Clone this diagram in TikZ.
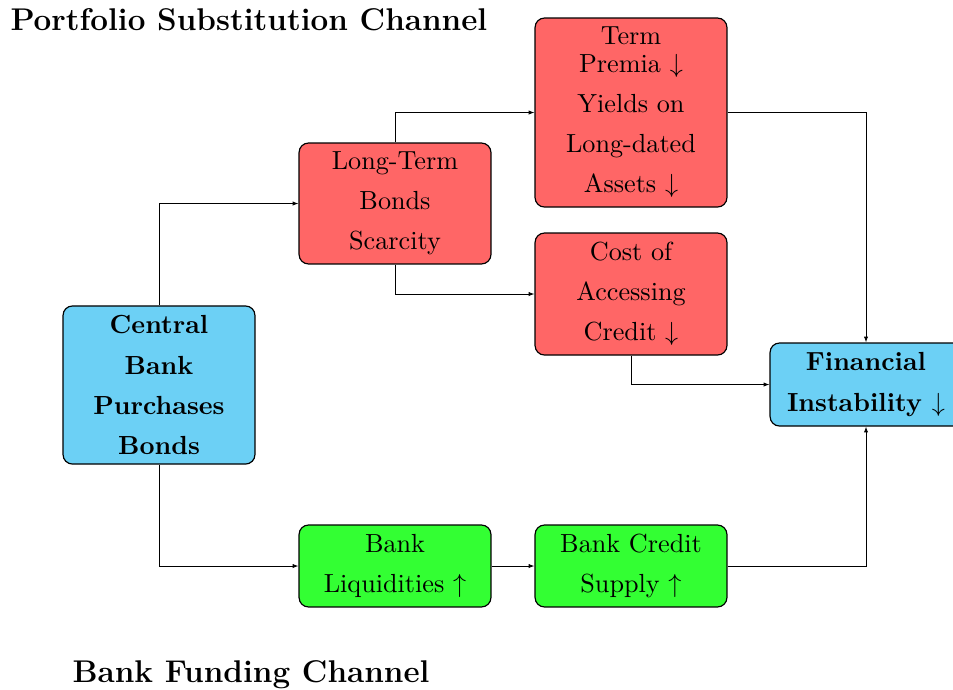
\documentclass[tikz,border=0pt]{standalone}
\usetikzlibrary{arrows.meta}
\definecolor{boxred}{RGB}{255,102,102}
\definecolor{boxblue}{RGB}{108,208,245}
\definecolor{boxgreen}{RGB}{51,255,51}
\tikzset{
  box/.style={draw=black, line width=0.45pt, rounded corners=3.6pt, minimum width=73.3pt,
    inner sep=0pt, align=center, font=\fontsize{10}{15.3}\selectfont},
  redbox/.style={box, fill=boxred},
  bluebox/.style={box, fill=boxblue, font=\fontsize{10}{15.3}\selectfont\bfseries},
  greenbox/.style={box, fill=boxgreen},
  arr/.style={-{Latex[length=2.2pt,width=1.6pt]}, line width=0.32pt},
  title/.style={font=\fontsize{12}{14}\selectfont\bfseries, inner sep=0pt}
}
\begin{document}
\begin{tikzpicture}[x=0.382pt,y=-0.382pt]
\useasboundingbox (0,0) rectangle (953,689);
\node[title, anchor=base west] (t1) at (10,30) {Portfolio Substitution Channel};
\node[title, anchor=base west] (t2) at (72,682) {Bank Funding Channel};
\node[bluebox, minimum height=60.4pt] (cb) at (159,385) {Central\\Bank\\Purchases\\Bonds};
\node[redbox, minimum height=46.2pt] (lt) at (395,203.5) {Long-Term\\Bonds\\Scarcity};
\node[redbox, minimum height=72.2pt] (tp) at (631,112.5) {Term\\[-4.6pt]Premia $\downarrow$\\Yields on\\Long-dated\\Assets $\downarrow$};
\node[redbox, minimum height=46.6pt] (co) at (631,294) {Cost of\\Accessing\\Credit $\downarrow$};
\node[bluebox, minimum height=31.7pt] (fi) at (866,384.5) {Financial\\Instability $\downarrow$};
\node[greenbox, minimum height=31.3pt] (bl) at (395,566) {Bank\\Liquidities $\uparrow$};
\node[greenbox, minimum height=31.3pt] (bc) at (631,566) {Bank Credit\\Supply $\uparrow$};
\draw[arr] (cb.north) |- (lt.west);
\draw[arr] (lt.north) |- (tp.west);
\draw[arr] (lt.south) |- (co.west);
\draw[arr] (tp.east) -| (fi.north);
\draw[arr] (co.south) |- (fi.west);
\draw[arr] (cb.south) |- (bl.west);
\draw[arr] (bl.east) -- (bc.west);
\draw[arr] (bc.east) -| (fi.south);
\end{tikzpicture}
\end{document}
